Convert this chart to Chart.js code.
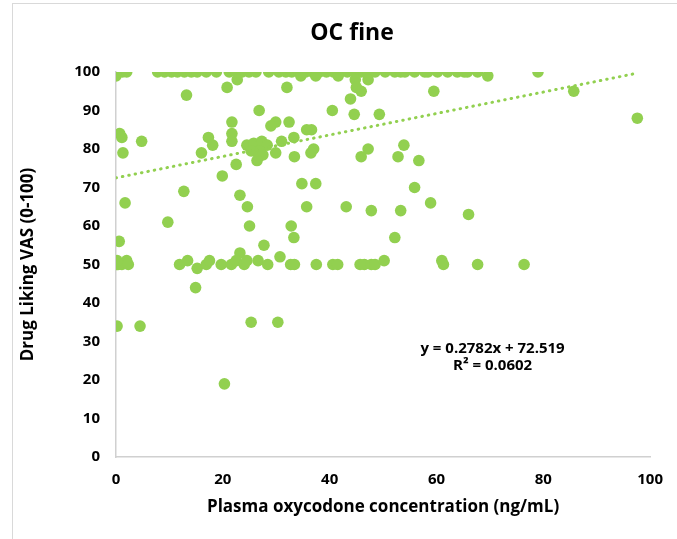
<!DOCTYPE html>
<html>
<head>
<meta charset="utf-8">
<script src="https://cdn.jsdelivr.net/npm/chart.js@4.4.1/dist/chart.umd.min.js"></script>
<style>
  body { margin: 0; background: #fff; }
  #frame { position: absolute; left: 12px; top: 3px; width: 700px; height: 560px; border-left: 1px solid #d9d9d9; border-top: 1px solid #d9d9d9; }
  #myChart { position: absolute; left: 0; top: 0; }
</style>
</head>
<body>
<div id="frame"></div>
<canvas id="myChart" width="677" height="539"></canvas>
<script>
// plasma concentration (ng/mL) and drug liking score, one entry per subject/timepoint
var concentration = [
  0.5, 1.2, 2, 7.8, 9.1, 10.4, 11.5, 12.8, 14.1, 15.2, 16.9, 18.8, 21.2, 22.5, 23.6, 24.9, 26.2, 28.6, 30.5, 31.8,
  32.9, 34.2, 35.5, 36.8, 38.1, 39.4, 40.7, 42, 43.3, 44.6, 45.9, 47.2, 48.5, 50.4, 52.2, 53.3, 54.1, 55.9, 57.8, 58.4,
  60.2, 62.1, 63.9, 65.2, 65.8, 67.7, 79,
  0, 34.6, 37.4, 41.6, 69.6,
  22.7, 44.8, 47.2, 20.8, 32, 45, 45.9, 59.5, 85.7, 13.2, 43.9, 26.8, 40.5, 44.6, 49.3, 97.6,
  21.7, 29.9, 32.4, 29, 35.7, 36.6, 0.7, 21.7, 1.1, 17.3, 33.3, 4.8, 21.7, 31, 18.1, 53.9,
  24.5, 25.8, 27.3, 28.3, 26.8, 25.3, 37, 47.2, 1.3, 16, 29.9, 36.5,
  33.4, 45.9, 52.8, 26.8, 27.5, 26.4, 56.7, 22.5, 19.9, 34.8, 37.4, 55.9,
  12.7, 23.2, 1.7, 58.9, 24.6, 35.7, 43.1, 47.8, 53.3, 66, 9.7, 25, 32.8, 33.3, 52.2, 0.6, 27.7, 23.2, 30.7,
  0, 0.4, 1.1, 2, 2.3, 0.2, 11.9, 13.4, 15.2, 16.9, 17.5, 19.7, 21.6, 22.5, 24, 24.5, 26.6, 28.4, 32.7, 33.4,
  37.5, 40.6, 41.5, 45.7, 46.5, 47.8, 48.5, 50.2, 61, 61.3, 67.7, 76.4,
  14.9, 25.3, 30.3, 0.2, 4.5, 20.3
];
var liking = [
  100, 100, 100, 100, 100, 100, 100, 100, 100, 100, 100, 100, 100, 100, 100, 100, 100, 100, 100, 100,
  100, 100, 100, 100, 100, 100, 100, 100, 100, 100, 100, 100, 100, 100, 100, 100, 100, 100, 100, 100,
  100, 100, 100, 100, 100, 100, 100,
  99, 99, 99, 99, 99,
  98, 98, 98, 96, 96, 96, 95, 95, 95, 94, 93, 90, 90, 89, 89, 88,
  87, 87, 87, 86, 85, 85, 84, 84, 83, 83, 83, 82, 82, 82, 81, 81,
  81, 81.5, 82, 81, 79.5, 79.5, 80, 80, 79, 79, 79, 79,
  78, 78, 78, 78, 78.5, 77, 77, 76, 73, 71, 71, 70,
  69, 68, 66, 66, 65, 65, 65, 64, 64, 63, 61, 60, 60, 57, 57, 56, 55, 53, 52,
  50, 50, 50, 51, 50, 51, 50, 51, 49, 50, 51, 50, 50, 51, 50, 51, 51, 50, 50, 50,
  50, 50, 50, 50, 50, 50, 50, 51, 51, 50, 50, 50,
  44, 35, 35, 34, 34, 19
];

// trendline end points as drawn in the picture
var trendX = [0, 97.6];
var trendY = [72.5, 99.7];
var eqText = ['y = 0.2782x + 72.519', 'R² = 0.0602'];
var eqPos = [70.5, 28, 23.6];
var chartTitle = 'OC fine';

var green = '#92d050';
var fontFam = '"Open Sans", "Liberation Sans", sans-serif';

var points = concentration.map((c, i) => ({ x: c, y: liking[i] }));
var trend = trendX.map((c, i) => ({ x: c, y: trendY[i] }));

var eqLabel = {
  id: 'eqLabel',
  afterDraw(chart) {
    var c = chart.ctx, sx = chart.scales.x, sy = chart.scales.y;
    c.save();
    c.fillStyle = '#000';
    c.textAlign = 'center';
    c.textBaseline = 'middle';
    c.font = 'bold 15px ' + fontFam;
    c.fillText(eqText[0], sx.getPixelForValue(eqPos[0]), sy.getPixelForValue(eqPos[1]));
    c.fillText(eqText[1], sx.getPixelForValue(eqPos[0]), sy.getPixelForValue(eqPos[2]));
    // title sits centred on the outer frame, not the plot
    c.font = 'bold 23px ' + fontFam;
    c.fillText(chartTitle, 352, 33);
    c.restore();
  }
};

var ctx = document.getElementById('myChart').getContext('2d');
var myChart = new Chart(ctx, {
  type: 'scatter',
  data: {
    datasets: [{
      type: 'line',
      label: 'Linear trend',
      data: trend,
      borderColor: green,
      borderWidth: 3,
      borderDash: [0.5, 6],
      borderCapStyle: 'round',
      pointRadius: 0,
      fill: false
    }, {
      label: 'OC fine',
      data: points,
      backgroundColor: green,
      borderWidth: 0,
      pointRadius: 5.8,
      pointHoverRadius: 5.8
    }]
  },
  options: {
    responsive: false,
    animation: false,
    layout: { padding: { left: 0, right: 22, top: 72, bottom: 0 } },
    plugins: {
      legend: { display: false },
      tooltip: { enabled: false },
      title: { display: false }
    },
    scales: {
      x: {
        type: 'linear',
        min: 0, max: 100,
        ticks: { stepSize: 20, padding: 14, color: '#000', font: { family: fontFam, size: 15, weight: 'bold' } },
        grid: { display: false, drawTicks: false },
        border: { display: true, color: '#d0d0d0', width: 1.5 },
        title: {
          display: true,
          text: 'Plasma oxycodone concentration (ng/mL)',
          color: '#000',
          font: { family: fontFam, size: 17, weight: 'bold' },
          padding: { top: 0, bottom: 22 }
        },
        afterFit: function (s) { s.height = 82; }
      },
      y: {
        min: 0, max: 100,
        ticks: { stepSize: 10, padding: 16, color: '#000', font: { family: fontFam, size: 15, weight: 'bold' } },
        grid: { display: false, drawTicks: false },
        border: { display: true, color: '#d0d0d0', width: 1.5 },
        title: {
          display: true,
          text: 'Drug Liking VAS (0-100)',
          color: '#000',
          font: { family: fontFam, size: 17, weight: 'bold' },
          padding: { top: 18, bottom: 0 }
        },
        afterFit: function (s) { s.width = 116; }
      }
    }
  },
  plugins: [eqLabel]
});
</script>
</body>
</html>
